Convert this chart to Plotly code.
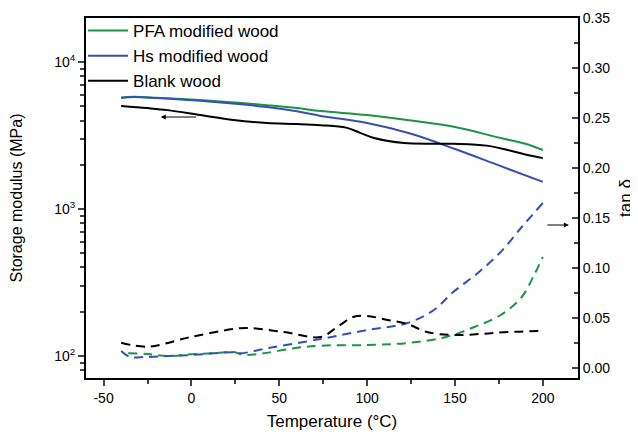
import plotly.graph_objects as go

# Storage modulus (MPa) vs temperature
T_pfa = [-40, -33, -20, 5, 25, 43, 60, 73.5, 100, 125, 150, 176, 190, 200]
E_pfa = [5750, 5800, 5720, 5510, 5300, 5090, 4870, 4640, 4360, 4000, 3610, 3040, 2780, 2520]

T_hs = [-40, -33, -20, 5, 25, 43, 60, 73.5, 100, 125, 150, 175, 200]
E_hs = [5700, 5780, 5700, 5450, 5200, 4940, 4620, 4300, 3850, 3250, 2560, 1980, 1530]

T_blank = [-40, -25, -13.6, 5, 24, 43, 60, 73.5, 88, 96, 104, 121, 149, 168, 180, 190, 200]
E_blank = [5020, 4860, 4710, 4360, 4030, 3850, 3790, 3720, 3580, 3300, 3040, 2810, 2780, 2700, 2520, 2350, 2220]

# tan delta vs temperature
Tt_pfa = [-36, -25, -13, 0, 14, 24, 30, 41, 58, 73.5, 100, 123, 145, 161, 176, 188, 195, 200]
tan_pfa = [0.0147, 0.014, 0.012, 0.0137, 0.015, 0.016, 0.013, 0.0147, 0.0197, 0.0223, 0.023, 0.025, 0.031, 0.041, 0.053, 0.071, 0.093, 0.111]

Tt_hs = [-40, -35, -26, -13, 0, 24, 28, 43, 73.5, 100, 123, 138, 149, 163, 176, 188, 200]
tan_hs = [0.017, 0.011, 0.011, 0.012, 0.013, 0.0157, 0.0147, 0.0197, 0.029, 0.038, 0.045, 0.058, 0.076, 0.095, 0.116, 0.141, 0.165]

Tt_blank = [-40, -25, -0.5, 24, 32, 52.5, 73.5, 83, 92, 100, 111.6, 123, 134, 149, 164.6, 180, 199]
tan_blank = [0.0253, 0.0213, 0.031, 0.039, 0.040, 0.036, 0.031, 0.041, 0.051, 0.052, 0.048, 0.044, 0.036, 0.033, 0.034, 0.036, 0.037]

GREEN = "#1b9447"
BLUE = "#3450b4"
BLACK = "#000000"
FONT = "Liberation Sans, Arial, sans-serif"

fig = go.Figure()
fig.add_trace(go.Scatter(x=T_pfa, y=E_pfa, mode="lines", name="PFA modified wood",
                         line=dict(color=GREEN, width=2, shape="spline")))
fig.add_trace(go.Scatter(x=T_hs, y=E_hs, mode="lines", name="Hs modified wood",
                         line=dict(color=BLUE, width=2, shape="spline")))
fig.add_trace(go.Scatter(x=T_blank, y=E_blank, mode="lines", name="Blank wood",
                         line=dict(color=BLACK, width=2, shape="spline")))

fig.add_trace(go.Scatter(x=Tt_pfa, y=tan_pfa, mode="lines", yaxis="y2", showlegend=False,
                         line=dict(color=GREEN, width=2, dash="9px,6px", shape="spline")))
fig.add_trace(go.Scatter(x=Tt_hs, y=tan_hs, mode="lines", yaxis="y2", showlegend=False,
                         line=dict(color=BLUE, width=2, dash="9px,6px", shape="spline")))
fig.add_trace(go.Scatter(x=Tt_blank, y=tan_blank, mode="lines", yaxis="y2", showlegend=False,
                         line=dict(color=BLACK, width=2, dash="9px,6px", shape="spline")))

minor_log = [70, 80, 90, 200, 300, 400, 500, 600, 700, 800, 900,
             2000, 3000, 4000, 5000, 6000, 7000, 8000, 9000, 20000]

fig.update_layout(
    width=630, height=426,
    margin=dict(l=78, r=60, t=0, b=56),
    paper_bgcolor="white", plot_bgcolor="white",
    font=dict(family=FONT, size=14, color="black"),
    showlegend=True,
    legend=dict(x=-0.006, y=0.9865, xref="paper", yref="paper",
                xanchor="left", yanchor="top",
                bgcolor="rgba(0,0,0,0)", font=dict(size=17, family=FONT),
                tracegroupgap=0, itemwidth=40),
    xaxis=dict(range=[-60, 220], tickvals=[-50, 0, 50, 100, 150, 200],
               ticktext=["-50", "0", "50", "100", "150", "200"],
               ticks="outside", ticklen=6, tickwidth=1.5,
               minor=dict(tickvals=[-25, 25, 75, 125, 175], ticks="outside", ticklen=4, tickwidth=1.5),
               showline=True, linecolor="black", linewidth=2, mirror=True,
               showgrid=False, zeroline=False, automargin=False,
               title=dict(text="Temperature (°C)", font=dict(size=17), standoff=10),
               tickfont=dict(size=14)),
    yaxis=dict(type="log", range=[1.85, 4.30], domain=[0, 0.973],
               tickvals=[100, 1000, 10000],
               ticktext=["10<sup>2</sup>", "10<sup>3</sup>", "10<sup>4</sup>"],
               ticks="outside", ticklen=6, tickwidth=1.5,
               minor=dict(tickvals=minor_log, ticks="outside", ticklen=4, tickwidth=1.5),
               showline=True, linecolor="black", linewidth=2,
               showgrid=False, zeroline=False, automargin=False,
               title=dict(text="Storage modulus (MPa)", font=dict(size=16), standoff=28),
               tickfont=dict(size=14)),
    yaxis2=dict(overlaying="y", side="right", range=[-0.01, 0.35],
                tickvals=[0, 0.05, 0.10, 0.15, 0.20, 0.25, 0.30, 0.35],
                tickformat=".2f",
                ticks="inside", ticklen=6, tickwidth=1.5,
                minor=dict(tickvals=[0.025, 0.075, 0.125, 0.175, 0.225, 0.275, 0.325],
                           ticks="inside", ticklen=4, tickwidth=1.5),
                showline=True, linecolor="black", linewidth=2,
                showgrid=False, zeroline=False, automargin=False,
                title=dict(text="tan δ", font=dict(size=17), standoff=10),
                tickfont=dict(size=14)),
)

# direction arrows
fig.add_annotation(x=-17.5, y=3.626, ax=3.5, ay=3.626, xref="x", yref="y", axref="x", ayref="y",
                   showarrow=True, arrowhead=2, arrowsize=1, arrowwidth=1, arrowcolor="black", text="")
fig.add_annotation(x=214.8, y=0.143, ax=201.7, ay=0.143, xref="x", yref="y2", axref="x", ayref="y2",
                   showarrow=True, arrowhead=2, arrowsize=1, arrowwidth=1, arrowcolor="black", text="")

fig.write_html("out.html")
